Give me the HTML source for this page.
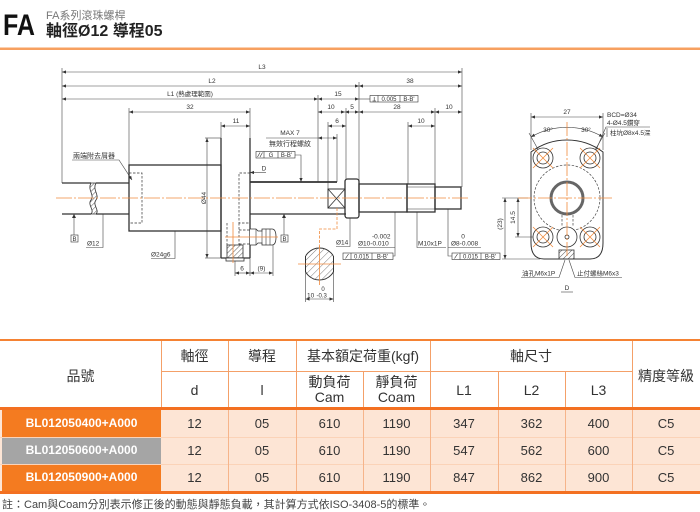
<!DOCTYPE html>
<html><head><meta charset="utf-8">
<style>
html,body{margin:0;padding:0}
body{width:700px;height:512px;overflow:hidden;background:#fff;position:relative;font-family:"Liberation Sans","Noto Sans CJK TC",sans-serif;}
svg{position:absolute;left:0;top:0}
.c{position:absolute;display:flex;align-items:center;justify-content:center;text-align:center;color:#333;box-sizing:border-box;font-size:14px;line-height:15px}
.n{font-size:13px}
.p{color:#fff;font-weight:bold;font-size:12px}
.l{position:absolute}
</style></head><body>
<svg width="700" height="335" viewBox="0 0 700 335" xmlns="http://www.w3.org/2000/svg" font-family="Liberation Sans, Noto Sans CJK TC, sans-serif">
<defs>
<marker id="ar" viewBox="0 0 10 10" refX="10" refY="5" markerUnits="userSpaceOnUse" markerWidth="5" markerHeight="4" orient="auto-start-reverse"><path d="M0,1 L10,5 L0,9z" fill="#333"/></marker>
<pattern id="h" width="3.5" height="3.5" patternUnits="userSpaceOnUse" patternTransform="rotate(45)"><line x1="0" y1="0" x2="0" y2="3.5" stroke="#333" stroke-width="0.8"/></pattern>
<pattern id="h2" width="5" height="5" patternUnits="userSpaceOnUse" patternTransform="rotate(45)"><line x1="0" y1="0" x2="0" y2="5" stroke="#444" stroke-width="0.7"/></pattern>
<clipPath id="cs"><rect x="305.5" y="240" width="28" height="50"/></clipPath>
</defs>

<!-- Header -->
<text x="3" y="35" font-size="30" font-weight="bold" textLength="32" lengthAdjust="spacingAndGlyphs" fill="#111">FA</text>
<text x="46" y="19" font-size="11" fill="#777">FA系列滾珠螺桿</text>
<text x="46" y="36" font-size="16" font-weight="bold" fill="#222">軸徑Ø12 導程05</text>
<rect x="0" y="47.5" width="700" height="2.5" fill="#f7a060"/>

<!-- dimension lines -->
<g stroke="#444" stroke-width="0.6" fill="none">
<line x1="62" y1="72" x2="462" y2="72" marker-start="url(#ar)" marker-end="url(#ar)"/>
<line x1="62" y1="86" x2="359" y2="86" marker-start="url(#ar)" marker-end="url(#ar)"/>
<line x1="359" y1="86" x2="462" y2="86" marker-start="url(#ar)" marker-end="url(#ar)"/>
<line x1="62" y1="99" x2="318" y2="99" marker-start="url(#ar)" marker-end="url(#ar)"/>
<line x1="318" y1="99" x2="359" y2="99" marker-start="url(#ar)" marker-end="url(#ar)"/>
<line x1="359" y1="99" x2="370" y2="99"/>
<line x1="129" y1="112" x2="250" y2="112" marker-start="url(#ar)" marker-end="url(#ar)"/>
<line x1="318" y1="112" x2="345" y2="112" marker-start="url(#ar)" marker-end="url(#ar)"/>
<line x1="345" y1="112" x2="359" y2="112" marker-start="url(#ar)" marker-end="url(#ar)"/>
<line x1="359" y1="112" x2="435" y2="112" marker-start="url(#ar)" marker-end="url(#ar)"/>
<line x1="435" y1="112" x2="462" y2="112" marker-start="url(#ar)" marker-end="url(#ar)"/>
<line x1="221" y1="126" x2="250" y2="126" marker-start="url(#ar)" marker-end="url(#ar)"/>
<line x1="328" y1="126" x2="346" y2="126" marker-start="url(#ar)" marker-end="url(#ar)"/>
<line x1="408" y1="126" x2="435" y2="126" marker-start="url(#ar)" marker-end="url(#ar)"/>
<line x1="266" y1="138" x2="318" y2="138"/>
<line x1="318" y1="138" x2="337" y2="138" marker-start="url(#ar)" marker-end="url(#ar)"/>
<line x1="207" y1="138" x2="207" y2="258" marker-start="url(#ar)" marker-end="url(#ar)"/>
<!-- extension lines -->
<line x1="62" y1="68" x2="62" y2="183"/>
<line x1="129" y1="108" x2="129" y2="165"/>
<line x1="221" y1="122" x2="221" y2="138"/>
<line x1="250" y1="108" x2="250" y2="138"/>
<line x1="205" y1="138" x2="221" y2="138"/>
<line x1="205" y1="258" x2="221" y2="258"/>
<line x1="318" y1="95" x2="318" y2="182"/>
<line x1="328" y1="122" x2="328" y2="189"/>
<line x1="337" y1="134" x2="337" y2="182"/>
<line x1="346" y1="108" x2="346" y2="179"/>
<line x1="359" y1="82" x2="359" y2="184"/>
<line x1="408" y1="122" x2="408" y2="184"/>
<line x1="435" y1="108" x2="435" y2="184"/>
<line x1="462" y1="68" x2="462" y2="187"/>
<!-- leaders -->
<polyline points="295,155 301,155 301,182" marker-end="url(#ar)"/>
<line x1="266" y1="172.5" x2="250" y2="172.5" marker-end="url(#ar)"/>
<polyline points="72,160 119,160 132,180" marker-end="url(#ar)"/>
<polyline points="103,214 103,247.5 86,247.5"/>
<polyline points="175,231 175,258.5 151,258.5"/>
<line x1="74" y1="214" x2="74" y2="235"/>
<line x1="284" y1="214" x2="284" y2="235"/>
<polyline points="350,218 350,246.5 336,246.5"/>
<polyline points="395,212 395,256 393,256"/>
<line x1="358" y1="247.5" x2="395" y2="247.5"/>
<polyline points="417,212 417,247.5 446,247.5"/>
<polyline points="448,209 448,256 452,256"/>
<line x1="448" y1="247.5" x2="481" y2="247.5"/>
<!-- small dims lower -->
<line x1="235" y1="261" x2="235" y2="276"/>
<line x1="250" y1="258" x2="250" y2="276"/>
<line x1="273" y1="245" x2="273" y2="276"/>
<line x1="235" y1="273" x2="250" y2="273" marker-start="url(#ar)" marker-end="url(#ar)"/>
<line x1="250" y1="273" x2="273" y2="273" marker-start="url(#ar)" marker-end="url(#ar)"/>
<line x1="305.5" y1="272" x2="305.5" y2="302"/>
<line x1="333.5" y1="272" x2="333.5" y2="302"/>
<line x1="305.5" y1="299" x2="333.5" y2="299" marker-start="url(#ar)" marker-end="url(#ar)"/>
</g>

<!-- boxes -->
<g stroke="#333" stroke-width="0.6" fill="#fff">
<rect x="370" y="95.5" width="48" height="6.5"/>
<line x1="378" y1="95.5" x2="378" y2="102"/><line x1="400" y1="95.5" x2="400" y2="102"/>
<rect x="256" y="151.5" width="39" height="6.5"/>
<line x1="264" y1="151.5" x2="264" y2="158"/><line x1="278" y1="151.5" x2="278" y2="158"/>
<line x1="257.5" y1="157" x2="260" y2="152.5"/><line x1="260" y1="157" x2="262.5" y2="152.5"/>
<rect x="343" y="253" width="50" height="6.5"/>
<line x1="351" y1="253" x2="351" y2="259.5"/><line x1="372" y1="253" x2="372" y2="259.5"/>
<line x1="345.5" y1="258.5" x2="348.5" y2="254"/>
<rect x="452" y="253" width="48" height="6.5"/>
<line x1="460" y1="253" x2="460" y2="259.5"/><line x1="481" y1="253" x2="481" y2="259.5"/>
<line x1="454.5" y1="258.5" x2="457.5" y2="254"/>
<rect x="71" y="235" width="7" height="7"/>
<rect x="281" y="235" width="7" height="7"/>
</g>
<path d="M72,218 L76,218 L74,214z M282,218 L286,218 L284,214z" fill="#333"/>
<line x1="372.5" y1="101" x2="376" y2="101" stroke="#333" stroke-width="0.6"/>
<line x1="374.2" y1="97" x2="374.2" y2="101" stroke="#333" stroke-width="0.6"/>

<!-- main shaft -->
<g stroke="#333" stroke-width="1.3" fill="none">
<line x1="62" y1="183" x2="91" y2="183"/><line x1="62" y1="214" x2="91" y2="214"/>
<line x1="96" y1="183" x2="129" y2="183"/><line x1="96" y1="214" x2="129" y2="214"/>
<rect x="129" y="165" width="92" height="66"/>
<line x1="221" y1="138" x2="221" y2="258"/>
<line x1="250" y1="138" x2="250" y2="258"/>
<line x1="221" y1="258" x2="250" y2="258"/>
<line x1="250" y1="182" x2="337" y2="182" stroke-width="1.8"/>
<line x1="250" y1="214" x2="346" y2="214"/>
<rect x="328" y="189" width="17" height="19" stroke-width="1"/>
<line x1="328" y1="189" x2="345" y2="208" stroke-width="0.8"/><line x1="345" y1="189" x2="328" y2="208" stroke-width="0.8"/>
<rect x="345" y="179" width="14" height="39" rx="2.5"/>
<rect x="359" y="184" width="48" height="28"/>
<rect x="407" y="184" width="28" height="28"/>
<line x1="407" y1="187" x2="435" y2="187" stroke-width="0.6"/><line x1="407" y1="209" x2="435" y2="209" stroke-width="0.6"/>
<rect x="435" y="187" width="26" height="22"/>
</g>
<!-- break -->
<path d="M91,183 C87,190 95,195 91,200 C87,205 95,210 91,214 L96,214 C100,210 92,205 96,200 C100,195 92,190 96,183 Z" fill="url(#h)" stroke="#333" stroke-width="0.8"/>
<!-- dashed wipers -->
<g stroke="#333" stroke-width="0.7" fill="none" stroke-dasharray="2.5 1.5">
<rect x="129" y="173" width="13" height="50"/>
<path d="M250,173 L239,173 L239,223 L250,223"/>
<line x1="227" y1="223" x2="227" y2="245"/>
<line x1="239" y1="223" x2="239" y2="245"/>
<line x1="239" y1="230" x2="250" y2="230"/>
<line x1="239" y1="244" x2="250" y2="244"/>
</g>
<rect x="227" y="245" width="16" height="13" fill="url(#h)" stroke="#333" stroke-width="0.8"/>
<rect x="226" y="258" width="18" height="3" fill="#fff" stroke="#333" stroke-width="0.8"/>
<!-- oil nipple -->
<path d="M250,229 L256,229 L258,231 L262,231 L262,229 L272,229 Q276,229 276,237 Q276,245 272,245 L262,245 L262,243 L258,243 L256,245 L250,245" fill="#fff" stroke="#333" stroke-width="0.8"/>
<g stroke="#333" stroke-width="0.6"><line x1="256" y1="229" x2="256" y2="245"/><line x1="262" y1="231" x2="262" y2="243"/><line x1="266" y1="229" x2="266" y2="245"/><line x1="270" y1="229" x2="270" y2="245"/></g>

<!-- centerlines -->
<g stroke="#f08a3c" stroke-width="0.8" fill="none">
<line x1="56" y1="198" x2="470" y2="198" stroke-dasharray="16 2 2 2"/>
<line x1="225" y1="237" x2="278" y2="237"/>
<line x1="233" y1="222" x2="233" y2="263"/>
<path d="M337,208 L337,229 L319.5,229 L319.5,247" stroke-dasharray="3 1.5"/>
</g>

<!-- cross section -->
<circle cx="319.5" cy="264" r="16" fill="url(#h2)" stroke="#333" stroke-width="1" clip-path="url(#cs)"/>
<line x1="305.5" y1="256" x2="305.5" y2="272" stroke="#333" stroke-width="1"/>
<line x1="333.5" y1="256" x2="333.5" y2="272" stroke="#333" stroke-width="1"/>
<g stroke="#f08a3c" stroke-width="0.8"><line x1="298" y1="264" x2="341" y2="264"/><line x1="319.5" y1="246" x2="319.5" y2="285"/></g>

<!-- texts -->
<g font-size="6.5" fill="#333" text-anchor="middle">
<text x="262" y="69">L3</text>
<text x="212" y="83">L2</text>
<text x="410" y="83">38</text>
<text x="190" y="96">L1 (熱處理範圍)</text>
<text x="338" y="96">15</text>
<text x="190" y="109">32</text>
<text x="331" y="109">10</text>
<text x="352" y="109">5</text>
<text x="397" y="109">28</text>
<text x="449" y="109">10</text>
<text x="236" y="123">11</text>
<text x="337" y="123">6</text>
<text x="421" y="123">10</text>
<text x="290" y="135">MAX 7</text>
<text x="290" y="146" font-size="7">無效行程螺紋</text>
<text x="242" y="270.5">6</text>
<text x="261.5" y="270.5">(9)</text>
<text x="264" y="170.5">D</text>
<text x="204" y="198" transform="rotate(-90 204 198)" dy="2">Ø44</text>
<g font-size="6">
<text x="389" y="101">0.005</text><text x="409" y="101">B-B'</text>
<text x="271" y="157">G</text><text x="286.5" y="157">B-B'</text>
<text x="361.5" y="258.5">0.015</text><text x="382.5" y="258.5">B-B'</text>
<text x="470.5" y="258.5">0.015</text><text x="490.5" y="258.5">B-B'</text>
<text x="74.5" y="241">B</text><text x="284.5" y="241">B</text>
</g>
<text x="463" y="238.5">0</text>
<text x="323" y="291" font-size="6">0</text>
</g>
<g font-size="6.5" fill="#333">
<text x="73" y="158" font-size="7">兩端附去屑器</text>
<text x="87" y="245.5">Ø12</text>
<text x="151" y="256.5">Ø24g6</text>
<text x="336" y="244.5">Ø14</text>
<text x="372" y="238.5">-0.002</text>
<text x="358" y="245.5">Ø10-0.010</text>
<text x="418" y="245.5">M10x1P</text>
<text x="451" y="245.5">Ø8-0.008</text>
<text x="307" y="297.5">10</text>
<text x="316.5" y="297.5" font-size="6">-0.3</text>
</g>

<!-- Right end view -->
<g stroke="#444" stroke-width="0.6" fill="none">
<line x1="531" y1="117" x2="603" y2="117" marker-start="url(#ar)" marker-end="url(#ar)"/>
<line x1="531" y1="113" x2="531" y2="150"/>
<line x1="603" y1="113" x2="603" y2="150"/>
<path d="M531,137 A72,72 0 0 1 603,137" marker-start="url(#ar)" marker-end="url(#ar)"/>
<line x1="545" y1="162" x2="529" y2="133"/>
<line x1="588" y1="162" x2="605" y2="133"/>
<line x1="505" y1="198" x2="505" y2="259" marker-start="url(#ar)" marker-end="url(#ar)"/>
<line x1="518" y1="198" x2="518" y2="237" marker-start="url(#ar)" marker-end="url(#ar)"/>
<line x1="502" y1="198" x2="528" y2="198"/>
<line x1="502" y1="259" x2="540" y2="259"/>
<line x1="515" y1="237" x2="535" y2="237"/>
<polyline points="650,127 606,127 596,150"/>
<line x1="607" y1="128" x2="607" y2="137"/>
<polyline points="521,277.5 559,277.5 565,260"/>
<polyline points="622,277.5 575,277.5 569,260"/>
<line x1="561" y1="292" x2="573" y2="292"/>
</g>
<path d="M531,243 L531,152 A60,60 0 0 1 603,152 L603,243 Q603,259 590,259 L544,259 Q531,259 531,243 Z" fill="none" stroke="#333" stroke-width="1"/>
<circle cx="567" cy="198" r="33" fill="none" stroke="#444" stroke-width="0.7" stroke-dasharray="2.5 1.5"/>
<g fill="#fff" stroke="#333" stroke-width="0.8">
<circle cx="543" cy="158" r="10"/><circle cx="543" cy="158" r="6"/>
<circle cx="590" cy="158" r="10"/><circle cx="590" cy="158" r="6"/>
<circle cx="543" cy="237" r="10"/><circle cx="543" cy="237" r="6"/>
<circle cx="590" cy="237" r="10"/><circle cx="590" cy="237" r="6"/>
<circle cx="567" cy="237" r="10"/><circle cx="567" cy="237" r="2"/>
</g>
<circle cx="567" cy="198" r="16" fill="#fff" stroke="#666" stroke-width="3"/>
<g stroke="#444" stroke-width="0.7" stroke-dasharray="2.5 1.5"><line x1="562" y1="215" x2="562" y2="227"/><line x1="573" y1="215" x2="573" y2="227"/></g>
<rect x="559" y="250" width="15" height="9" fill="url(#h)" stroke="#333" stroke-width="0.8"/>
<g stroke="#f08a3c" stroke-width="0.8">
<line x1="567" y1="122" x2="567" y2="258" stroke-dasharray="14 2 2 2"/>
<line x1="518" y1="198" x2="612" y2="198" stroke-dasharray="14 2 2 2"/>
<line x1="533" y1="148" x2="553" y2="168"/><line x1="553" y1="148" x2="533" y2="168"/>
<line x1="580" y1="148" x2="600" y2="168"/><line x1="600" y1="148" x2="580" y2="168"/>
<line x1="533" y1="227" x2="553" y2="247"/><line x1="553" y1="227" x2="533" y2="247"/>
<line x1="580" y1="227" x2="600" y2="247"/><line x1="600" y1="227" x2="580" y2="247"/>
</g>
<g font-size="6.5" fill="#333">
<text x="567" y="114" text-anchor="middle">27</text>
<text x="548" y="132" text-anchor="middle">30°</text>
<text x="586" y="132" text-anchor="middle">30°</text>
<text x="607" y="117">BCD=Ø34</text>
<text x="607" y="125">4-Ø4.5鑽穿</text>
<text x="610" y="135">柱坑Ø8x4.5深</text>
<text x="522" y="275.5">油孔M6x1P</text>
<text x="577" y="275.5">止付螺絲M6x3</text>
<text x="567" y="290" text-anchor="middle">D</text>
<text x="513" y="217.5" text-anchor="middle" transform="rotate(-90 513 217.5)" dy="2">14.5</text>
<text x="500" y="224" text-anchor="middle" transform="rotate(-90 500 224)" dy="2">(23)</text>
</g>
</svg>

<!-- TABLE -->
<div class="l" style="left:0;top:339px;width:700px;height:2px;background:#f58233"></div>
<!-- header grid lines -->
<div class="l" style="left:161px;top:341px;width:1px;height:67px;background:#f4a068"></div>
<div class="l" style="left:228px;top:341px;width:1px;height:67px;background:#f4a068"></div>
<div class="l" style="left:296px;top:341px;width:1px;height:67px;background:#f4a068"></div>
<div class="l" style="left:363px;top:371px;width:1px;height:37px;background:#f4a068"></div>
<div class="l" style="left:430px;top:341px;width:1px;height:67px;background:#f4a068"></div>
<div class="l" style="left:498px;top:371px;width:1px;height:37px;background:#f4a068"></div>
<div class="l" style="left:565px;top:371px;width:1px;height:37px;background:#f4a068"></div>
<div class="l" style="left:632px;top:341px;width:1px;height:67px;background:#f4a068"></div>
<div class="l" style="left:161px;top:371px;width:471px;height:1px;background:#f4a068"></div>
<!-- header texts -->
<div class="c" style="left:0;top:345px;width:161px;height:63px">品號</div>
<div class="c" style="left:161px;top:341px;width:67px;height:30px">軸徑</div>
<div class="c" style="left:228px;top:341px;width:68px;height:30px">導程</div>
<div class="c" style="left:296px;top:341px;width:134px;height:30px">基本額定荷重(kgf)</div>
<div class="c" style="left:430px;top:341px;width:202px;height:30px">軸尺寸</div>
<div class="c" style="left:632px;top:345px;width:68px;height:63px">精度等級</div>
<div class="c" style="left:161px;top:372px;width:67px;height:36px">d</div>
<div class="c" style="left:228px;top:372px;width:68px;height:36px">l</div>
<div class="c" style="left:296px;top:372px;width:67px;height:36px">動負荷<br>Cam</div>
<div class="c" style="left:363px;top:372px;width:67px;height:36px">靜負荷<br>Coam</div>
<div class="c" style="left:430px;top:372px;width:68px;height:36px">L1</div>
<div class="c" style="left:498px;top:372px;width:67px;height:36px">L2</div>
<div class="c" style="left:565px;top:372px;width:67px;height:36px">L3</div>
<div class="l" style="left:0;top:407px;width:700px;height:3px;background:#f37021"></div>
<!-- body background -->
<div class="l" style="left:0;top:410px;width:700px;height:81px;background:#fde5d5"></div>
<div class="l" style="left:0;top:436.5px;width:700px;height:1px;background:#fbd3b8"></div>
<div class="l" style="left:0;top:463.5px;width:700px;height:1px;background:#fbd3b8"></div>
<div class="l" style="left:228px;top:410px;width:1px;height:81px;background:#f6b48a"></div>
<div class="l" style="left:296px;top:410px;width:1px;height:81px;background:#f6b48a"></div>
<div class="l" style="left:363px;top:410px;width:1px;height:81px;background:#f6b48a"></div>
<div class="l" style="left:430px;top:410px;width:1px;height:81px;background:#f6b48a"></div>
<div class="l" style="left:498px;top:410px;width:1px;height:81px;background:#f6b48a"></div>
<div class="l" style="left:565px;top:410px;width:1px;height:81px;background:#f6b48a"></div>
<div class="l" style="left:632px;top:410px;width:1px;height:81px;background:#f6b48a"></div>
<!-- product cells -->
<div class="c p" style="left:2px;top:410px;width:159px;height:26.5px;background:#f47b20">BL012050400+A000</div>
<div class="c p" style="left:2px;top:437.5px;width:159px;height:26px;background:#a5a5a5">BL012050600+A000</div>
<div class="c p" style="left:2px;top:464.5px;width:159px;height:26.5px;background:#f47b20">BL012050900+A000</div>
<!-- row 1 -->
<div class="c n" style="left:161px;top:410px;width:67px;height:27px">12</div>
<div class="c n" style="left:228px;top:410px;width:68px;height:27px">05</div>
<div class="c n" style="left:296px;top:410px;width:67px;height:27px">610</div>
<div class="c n" style="left:363px;top:410px;width:67px;height:27px">1190</div>
<div class="c n" style="left:430px;top:410px;width:68px;height:27px">347</div>
<div class="c n" style="left:498px;top:410px;width:67px;height:27px">362</div>
<div class="c n" style="left:565px;top:410px;width:67px;height:27px">400</div>
<div class="c n" style="left:632px;top:410px;width:68px;height:27px">C5</div>
<!-- row 2 -->
<div class="c n" style="left:161px;top:437px;width:67px;height:27px">12</div>
<div class="c n" style="left:228px;top:437px;width:68px;height:27px">05</div>
<div class="c n" style="left:296px;top:437px;width:67px;height:27px">610</div>
<div class="c n" style="left:363px;top:437px;width:67px;height:27px">1190</div>
<div class="c n" style="left:430px;top:437px;width:68px;height:27px">547</div>
<div class="c n" style="left:498px;top:437px;width:67px;height:27px">562</div>
<div class="c n" style="left:565px;top:437px;width:67px;height:27px">600</div>
<div class="c n" style="left:632px;top:437px;width:68px;height:27px">C5</div>
<!-- row 3 -->
<div class="c n" style="left:161px;top:464px;width:67px;height:27px">12</div>
<div class="c n" style="left:228px;top:464px;width:68px;height:27px">05</div>
<div class="c n" style="left:296px;top:464px;width:67px;height:27px">610</div>
<div class="c n" style="left:363px;top:464px;width:67px;height:27px">1190</div>
<div class="c n" style="left:430px;top:464px;width:68px;height:27px">847</div>
<div class="c n" style="left:498px;top:464px;width:67px;height:27px">862</div>
<div class="c n" style="left:565px;top:464px;width:67px;height:27px">900</div>
<div class="c n" style="left:632px;top:464px;width:68px;height:27px">C5</div>
<div class="l" style="left:0;top:490.5px;width:700px;height:3px;background:#f37021"></div>
<div class="l" style="left:2px;top:498px;height:14px;line-height:14px;font-size:11px;color:#444;white-space:nowrap">註：Cam與Coam分別表示修正後的動態與靜態負載，其計算方式依ISO-3408-5的標準。</div>
</body></html>
